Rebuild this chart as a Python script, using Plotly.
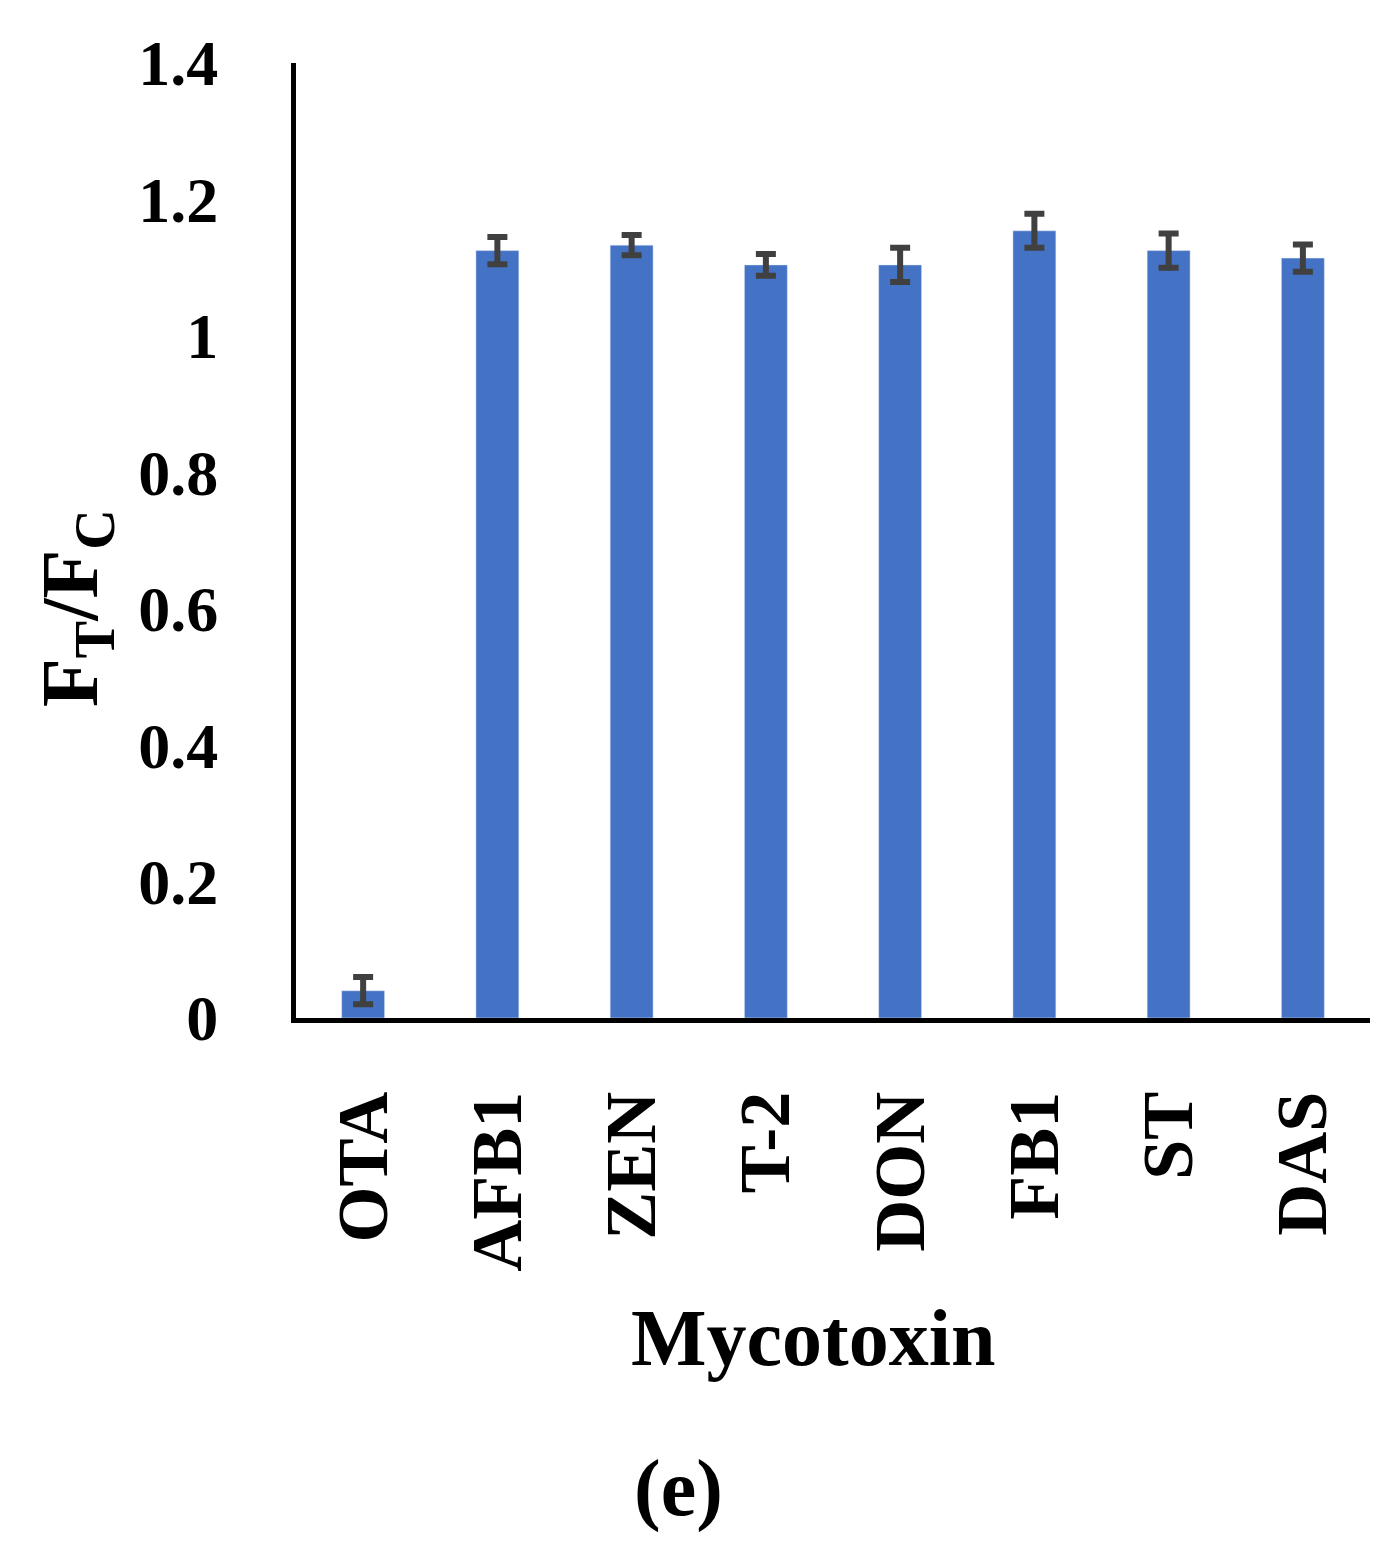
import plotly.graph_objects as go

categories = ["OTA", "AFB1", "ZEN", "T-2", "DON", "FB1", "ST", "DAS"]
values = [0.04, 1.125, 1.133, 1.104, 1.104, 1.154, 1.125, 1.114]
errors = [0.02, 0.02, 0.015, 0.016, 0.025, 0.025, 0.025, 0.02]
yticks = [0, 0.2, 0.4, 0.6, 0.8, 1, 1.2, 1.4]

font = "Liberation Serif"
T, B, L, R = 55, 1010, 288, 1362
H = B - T
fig = go.Figure(go.Bar(
    x=categories, y=values, width=0.32, marker_color="#4472C4",
    error_y=dict(type="data", array=errors, color="#404040", thickness=6, width=10),
))
fig.update_layout(
    width=1392, height=1545, plot_bgcolor="white", paper_bgcolor="white",
    margin=dict(l=L, r=1392 - R, t=T, b=1545 - B, autoexpand=False), showlegend=False,
    font=dict(family=font, color="black"),
    xaxis=dict(showline=True, linecolor="black", linewidth=5, tickangle=-90, automargin=False,
               tickfont=dict(size=72, family=font, weight="bold"), ticks="", ticklabelstandoff=40),
    yaxis=dict(range=[0, 1.4], tickvals=yticks, ticktext=[f"{v:g}" for v in yticks], automargin=False,
               showline=True, linecolor="black", linewidth=5, showgrid=False, zeroline=False,
               tickfont=dict(size=64, family=font, weight="bold"), ticks="", ticklabelstandoff=60),
    annotations=[
        dict(text="<b>Mycotoxin</b>", x=(805 - L) / (R - L), xref="paper", y=-(1330 - B) / H, yref="paper",
             showarrow=False, yanchor="middle", font=dict(size=80, family=font)),
        dict(text="<b>F<sub>T</sub>/F<sub>C</sub></b>", x=-(L - 68) / (R - L), xref="paper", y=(B - 600) / H,
             yref="paper", showarrow=False, textangle=-90, xanchor="center", yanchor="middle",
             font=dict(size=80, family=font)),
        dict(text="<b>(e)</b>", x=(670 - L) / (R - L), xref="paper", y=-(1480 - B) / H, yref="paper",
             showarrow=False, yanchor="middle", font=dict(size=80, family=font)),
    ],
)
fig.write_html("out.html")
